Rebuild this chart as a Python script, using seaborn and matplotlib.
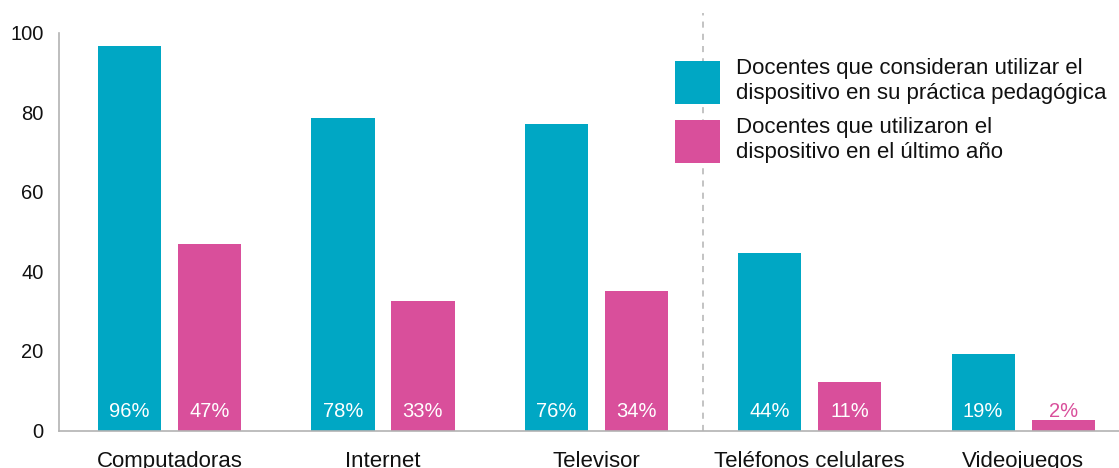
import matplotlib
matplotlib.use("Agg")
import matplotlib.pyplot as plt
import pandas as pd
import seaborn as sns

categories = ["Computadoras", "Internet", "Televisor", "Teléfonos celulares", "Videojuegos"]
series_names = [
    "Docentes que consideran utilizar el\ndispositivo en su práctica pedagógica",
    "Docentes que utilizaron el\ndispositivo en el último año",
]
consideran = [96.6, 78.5, 77.0, 44.6, 19.2]
utilizaron = [46.9, 32.5, 35.0, 12.2, 2.6]
consideran_labels = ["96%", "78%", "76%", "44%", "19%"]
utilizaron_labels = ["47%", "33%", "34%", "11%", "2%"]
y_ticks = [0, 20, 40, 60, 80, 100]

TEAL = "#00a7c4"
PINK = "#d94f9b"
GRAY = "#b3b3b3"

sns.set_theme(style="white")
plt.rcParams["font.family"] = ["Liberation Sans", "DejaVu Sans"]

df = pd.DataFrame(
    {
        "categoria": categories * 2,
        "valor": consideran + utilizaron,
        "serie": [series_names[0]] * 5 + [series_names[1]] * 5,
    }
)

fig = plt.figure(figsize=(11.19, 4.68), dpi=100)
ax = fig.add_axes([0.0527, 0.0801, 0.9473, 0.8504])

sns.barplot(
    data=df,
    x="categoria",
    y="valor",
    hue="serie",
    order=categories,
    hue_order=series_names,
    palette=[TEAL, PINK],
    width=0.75,
    gap=0.21,
    saturation=1,
    linewidth=0,
    ax=ax,
)

ax.set_xlim(-0.518, 4.449)
ax.set_ylim(0, 100)
ax.set_yticks(y_ticks)
ax.set_xlabel("")
ax.set_ylabel("")

for side in ["top", "right"]:
    ax.spines[side].set_visible(False)
for side in ["left", "bottom"]:
    ax.spines[side].set_color(GRAY)
    ax.spines[side].set_linewidth(1.2)

ax.tick_params(axis="y", direction="in", length=9.5, width=1, color=GRAY,
               labelsize=14.5, pad=11, labelcolor="#111111")
ax.tick_params(axis="x", which="major", length=0, labelsize=16, pad=15,
               labelcolor="#111111")
ax.set_xticks([0.5, 1.5, 2.5, 3.5], minor=True)
ax.tick_params(axis="x", which="minor", direction="in", length=7, width=1, color=GRAY)

# dashed separator between groups
ax.axvline(2.5, ymin=0, ymax=1.05, clip_on=False, color=GRAY, lw=1.1,
           linestyle=(0, (4, 4)))

# percentage labels at the bottom of each bar
for container, labels in zip(ax.containers, [consideran_labels, utilizaron_labels]):
    for bar, label in zip(container, labels):
        short = bar.get_height() < 8
        ax.text(bar.get_x() + bar.get_width() / 2, 4.8, label,
                ha="center", va="center", fontsize=14.5,
                color=PINK if short else "white")

leg = ax.legend(
    loc="upper left",
    bbox_to_anchor=(675 / 1119, 1 - 58 / 468),
    bbox_transform=fig.transFigure,
    frameon=False,
    fontsize=16,
    handlelength=2.03,
    handleheight=2.6,
    handletextpad=0.7,
    labelspacing=0.6,
    borderpad=0,
    borderaxespad=0,
)
for t in leg.get_texts():
    t.set_linespacing(1.25)
    t.set_color("#111111")

fig.savefig("out.png", dpi=100)
